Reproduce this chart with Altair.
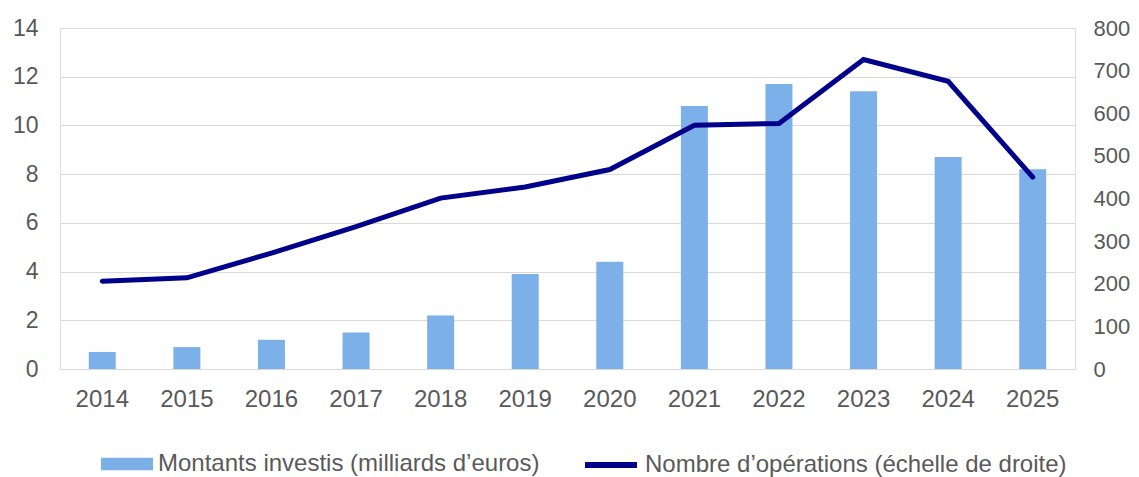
import altair as alt
import pandas as pd

years = ["2014", "2015", "2016", "2017", "2018", "2019", "2020", "2021", "2022", "2023", "2024", "2025"]
montants = [0.7, 0.9, 1.2, 1.5, 2.2, 3.9, 4.4, 10.8, 11.7, 11.4, 8.7, 8.2]
operations = [206, 214, 272, 334, 401, 427, 468, 572, 576, 726, 675, 450]

label_bar = "Montants investis (milliards d’euros)"
label_line = "Nombre d’opérations (échelle de droite)"

df = pd.DataFrame({
    "annee": years,
    "montants": montants,
    "operations": operations,
    "serie_bar": [label_bar] * len(years),
    "serie_line": [label_line] * len(years),
})

FONT = "Liberation Sans"
GREY = "#595959"
BAR_COLOR = "#7CB0E8"
LINE_COLOR = "#00008B"

x_enc = alt.X(
    "annee:O",
    scale=alt.Scale(paddingInner=0, paddingOuter=0),
    axis=alt.Axis(
        title=None, labelAngle=0, ticks=False, domain=False, grid=False,
        labelFontSize=24, labelColor=GREY, labelFont=FONT, labelPadding=18,
    ),
)

bars = alt.Chart(df).mark_bar(size=27).encode(
    x=x_enc,
    y=alt.Y(
        "montants:Q",
        scale=alt.Scale(domain=[0, 14], nice=False),
        axis=alt.Axis(
            title=None, values=[0, 2, 4, 6, 8, 10, 12, 14], ticks=False, domain=False,
            grid=True, gridColor="#D9D9D9", gridWidth=1.2,
            labelFontSize=23, labelColor=GREY, labelFont=FONT, labelPadding=22,
        ),
    ),
    fill=alt.Fill(
        "serie_bar:N",
        scale=alt.Scale(domain=[label_bar], range=[BAR_COLOR]),
        legend=alt.Legend(
            title=None, orient="none", legendX=41, legendY=410,
            symbolType="M-1,-0.24H1V0.24H-1Z", symbolSize=2704, symbolStrokeWidth=0,
            labelFontSize=24, labelColor=GREY, labelFont=FONT, labelOffset=5,
            labelLimit=0,
        ),
    ),
)

line = alt.Chart(df).mark_line(strokeWidth=5, strokeCap="round").encode(
    x=x_enc,
    y=alt.Y(
        "operations:Q",
        scale=alt.Scale(domain=[0, 800], nice=False),
        axis=alt.Axis(
            title=None, orient="right", values=list(range(0, 801, 100)), ticks=False,
            domain=False, grid=False,
            labelFontSize=22, labelColor=GREY, labelFont=FONT, labelPadding=18,
        ),
    ),
    stroke=alt.Stroke(
        "serie_line:N",
        scale=alt.Scale(domain=[label_line], range=[LINE_COLOR]),
        legend=alt.Legend(
            title=None, orient="none", legendX=522, legendY=408,
            symbolType="M-1,0H1", symbolSize=2704, symbolStrokeWidth=6,
            labelFontSize=24, labelColor=GREY, labelFont=FONT, labelOffset=5,
            labelLimit=0,
        ),
    ),
)

chart = (
    alt.layer(bars, line)
    .resolve_scale(y="independent", fill="independent", stroke="independent")
    .properties(
        width=1015, height=341,
        padding={"left": 52, "top": 20, "right": 56, "bottom": 108},
        autosize=alt.AutoSizeParams(type="none"),
    )
    .configure_view(stroke=None)
    .configure(background="white")
)

chart.save("out.html", embed_options={"renderer": "svg", "actions": False})
